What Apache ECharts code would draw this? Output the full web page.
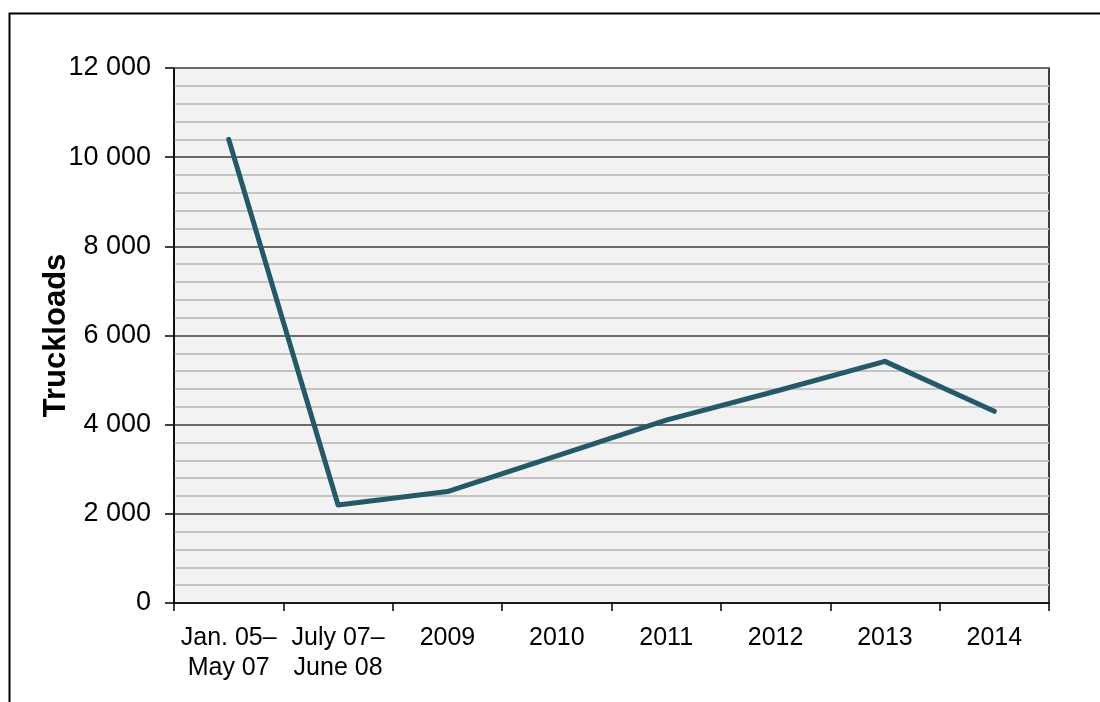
<!DOCTYPE html>
<html>
<head>
<meta charset="utf-8">
<script src="https://cdn.jsdelivr.net/npm/echarts@6/dist/echarts.min.js"></script>
<style>
html,body{margin:0;padding:0;background:#fff;}
#chart{width:1100px;height:702px;}
</style>
</head>
<body>
<div id="chart"></div>
<script>
var categories = ['Jan. 05–\nMay 07', 'July 07–\nJune 08', '2009', '2010', '2011', '2012', '2013', '2014'];
var truckloads = [10400, 2200, 2500, 3300, 4100, 4750, 5420, 4300];
var yTicks = [0, 2000, 4000, 6000, 8000, 10000, 12000];

var FONT = '"Liberation Sans Narrow", "Arial Narrow", "Liberation Sans", Arial, sans-serif';

var chart = echarts.init(document.getElementById('chart'), null, {renderer: 'canvas'});
chart.setOption({
  animation: false,
  backgroundColor: '#ffffff',
  graphic: [{
    type: 'rect',
    shape: {x: 9.5, y: 13.5, width: 1200, height: 800},
    style: {fill: 'none', stroke: '#000', lineWidth: 2},
    z: 100
  }],
  grid: {
    left: 174, right: 51, top: 68, bottom: 99,
    show: true, backgroundColor: '#f2f2f2', borderColor: '#000', borderWidth: 1.5
  },
  xAxis: {
    type: 'category',
    data: categories,
    boundaryGap: true,
    axisLine: {show: true, lineStyle: {color: '#000', width: 1.5}},
    axisTick: {show: true, alignWithLabel: false, length: 8, lineStyle: {color: '#000', width: 1.5}},
    axisLabel: {
      color: '#000', fontFamily: FONT, fontSize: 25, lineHeight: 30, margin: 20, interval: 0
    },
    splitLine: {show: false}
  },
  yAxis: {
    type: 'value',
    min: yTicks[0], max: yTicks[yTicks.length - 1], interval: 2000,
    name: 'Truckloads',
    nameLocation: 'middle',
    nameGap: 102,
    nameMoveOverlap: false,
    nameTextStyle: {color: '#000', fontFamily: FONT, fontSize: 31, fontWeight: 'bold'},
    axisLine: {show: true, lineStyle: {color: '#000', width: 1.5}},
    axisTick: {show: true, length: 9, lineStyle: {color: '#000', width: 1.5}},
    axisLabel: {
      color: '#000', fontFamily: FONT, fontSize: 27, margin: 23,
      formatter: function (v) { return String(v).replace(/\B(?=(\d{3})+(?!\d))/g, ' '); }
    },
    splitLine: {show: true, lineStyle: {color: '#6b6b6b', width: 2}},
    minorTick: {show: false, splitNumber: 5},
    minorSplitLine: {show: true, lineStyle: {color: '#c4c4c4', width: 2}}
  },
  series: [{
    type: 'line',
    data: truckloads,
    symbol: 'none',
    lineStyle: {color: '#215a68', width: 5, cap: 'round', join: 'round'},
    z: 5
  }]
});
</script>
</body>
</html>
